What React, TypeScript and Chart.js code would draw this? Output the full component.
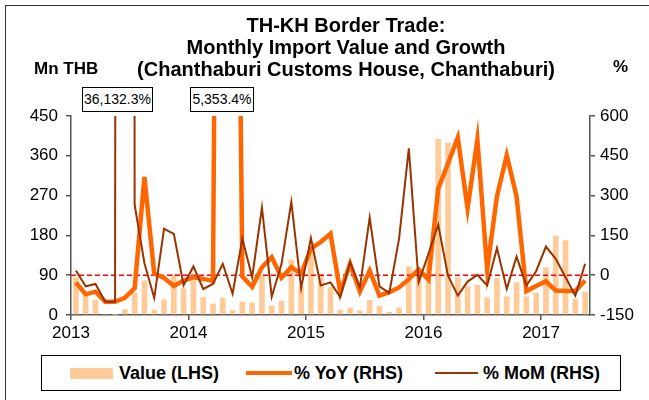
import React, { useEffect, useRef } from "react";
import { Chart, registerables } from "chart.js";

Chart.register(...registerables);

const months: string[] = [
  "2013-01", "2013-02", "2013-03", "2013-04", "2013-05", "2013-06", "2013-07", "2013-08", "2013-09", "2013-10", "2013-11", "2013-12",
  "2014-01", "2014-02", "2014-03", "2014-04", "2014-05", "2014-06", "2014-07", "2014-08", "2014-09", "2014-10", "2014-11", "2014-12",
  "2015-01", "2015-02", "2015-03", "2015-04", "2015-05", "2015-06", "2015-07", "2015-08", "2015-09", "2015-10", "2015-11", "2015-12",
  "2016-01", "2016-02", "2016-03", "2016-04", "2016-05", "2016-06", "2016-07", "2016-08", "2016-09", "2016-10", "2016-11", "2016-12",
  "2017-01", "2017-02", "2017-03", "2017-04", "2017-05",
];

// Import value, Mn THB (LHS)
const valueLHS: number[] = [
  85, 49, 34, 1, 0.3, 13, 51, 78, 12, 35, 93, 60,
  78, 40, 26, 39, 11, 30, 28, 89, 21, 32, 125, 64,
  146, 93, 63, 12, 17, 10, 34, 20, 7, 17, 110, 94,
  134, 398, 389, 85, 65, 68, 40, 84, 42, 74, 42, 51,
  108, 179, 169, 36, 53,
];

// % YoY (RHS)
const yoyRHS: number[] = [
  -27, -72, -62, -100, -100, -85, -49, 370, 6, -10, -41, -20,
  -8, -14, -22, 5353.4, 3500, -5, -44, 30, 68, -10, 30, 5,
  100, 125, 156, -64, 43, -62, 17, -77, -64, -46, -15, 22,
  -16, 326, 421, 519, 251, 512, 22, 298, 452, 297, -60, -41,
  -23, -58, -60, -60, -20,
];

// % MoM (RHS)
const momRHS: number[] = [
  18, -42, -33, -100, -100, 36132.3, 265, 45, -86, 175, 156, -38,
  33, -52, -33, 43, -70, 137, -8, 255, -81, 43, 276, -49,
  140, -39, -27, -83, 49, -46, 217, -42, -67, 137, 478, -27,
  80, 190, -2, -77, -24, 1, -39, 102, -52, 70, -39, 15,
  108, 62, -8, -77, 43,
];

const yearLabels: string[] = ["2013", "2014", "2015", "2016", "2017"];
const calloutLabels: string[] = ["36,132.3%", "5,353.4%"];

const FONT = "'Liberation Sans', Arial, sans-serif";
const AXIS_COLOR = "#555555";

const zeroLinePlugin = {
  id: "zeroLine",
  afterDatasetDraw(chart: any, args: any) {
    if (args.index !== 0) return;
    const ctx = chart.ctx;
    const y = chart.scales.y1.getPixelForValue(0);
    const { left, right } = chart.chartArea;
    ctx.save();
    ctx.strokeStyle = "#FF0000";
    ctx.lineWidth = 1.5;
    ctx.setLineDash([5, 3]);
    ctx.beginPath();
    ctx.moveTo(left, y);
    ctx.lineTo(right, y);
    ctx.stroke();
    ctx.restore();
  },
};

function ChartCanvas() {
  const ref = useRef<HTMLCanvasElement | null>(null);
  useEffect(() => {
    if (!ref.current) return;
    const yearIdx = yearLabels.map((y) => months.indexOf(y + "-01"));
    const chart = new Chart(ref.current, {
      type: "bar",
      data: {
        labels: months,
        datasets: [
          {
            type: "bar",
            label: "Value (LHS)",
            data: valueLHS,
            backgroundColor: "#FFCC99",
            xAxisID: "x",
            yAxisID: "y",
            order: 3,
            categoryPercentage: 1,
            barPercentage: 0.58,
          } as any,
          {
            type: "line",
            label: "% YoY (RHS)",
            data: yoyRHS,
            borderColor: "#FF6600",
            backgroundColor: "#FF6600",
            borderWidth: 4.5,
            pointRadius: 0,
            tension: 0,
            xAxisID: "x",
            yAxisID: "y1",
            order: 2,
          } as any,
          {
            type: "line",
            label: "% MoM (RHS)",
            data: momRHS,
            borderColor: "#993300",
            backgroundColor: "#993300",
            borderWidth: 2,
            pointRadius: 0,
            tension: 0,
            xAxisID: "x",
            yAxisID: "y1",
            order: 1,
          } as any,
        ],
      },
      options: {
        animation: false,
        responsive: false,
        maintainAspectRatio: false,
        layout: { padding: { top: 116, left: 0, right: 0, bottom: 0 } },
        plugins: { legend: { display: false }, tooltip: { enabled: false } },
        scales: {
          x: { type: "category", display: false, offset: true },
          x2: {
            type: "linear",
            position: "bottom",
            offset: false,
            min: 0,
            max: months.length,
            afterBuildTicks: (s: any) => {
              s.ticks = yearIdx.map((v) => ({ value: v }));
            },
            ticks: {
              autoSkip: false,
              maxRotation: 0,
              padding: 3,
              color: "#000",
              font: { family: FONT, size: 17 },
              callback: (v: any) => {
                const k = yearIdx.indexOf(Number(v));
                return k >= 0 ? yearLabels[k] : "";
              },
            },
            grid: { display: true, offset: false, drawOnChartArea: false, drawTicks: true, tickLength: 5, color: AXIS_COLOR, lineWidth: 1.5 },
            border: { display: true, color: AXIS_COLOR, width: 1.5 },
            afterFit: (s: any) => {
              s.height = 85;
            },
          } as any,
          y: {
            position: "left",
            min: 0,
            max: 450,
            ticks: { stepSize: 90, padding: 8, color: "#000", font: { family: FONT, size: 17 } },
            grid: { display: true, drawOnChartArea: false, drawTicks: true, tickLength: 5, color: AXIS_COLOR, lineWidth: 1.5 },
            border: { display: true, color: AXIS_COLOR, width: 1.5 },
            afterFit: (s: any) => {
              s.width = 71;
            },
          } as any,
          y1: {
            position: "right",
            min: -150,
            max: 600,
            ticks: { stepSize: 150, padding: 5, color: "#000", font: { family: FONT, size: 17 } },
            grid: { display: true, drawOnChartArea: false, drawTicks: true, tickLength: 5, color: AXIS_COLOR, lineWidth: 1.5 },
            border: { display: true, color: AXIS_COLOR, width: 1.5 },
            afterFit: (s: any) => {
              s.width = 59;
            },
          } as any,
        },
      },
      plugins: [zeroLinePlugin],
    });
    return () => chart.destroy();
  }, []);
  return <canvas ref={ref} width={649} height={400} style={{ position: "absolute", left: 0, top: 0, width: 649, height: 400 }} />;
}

export default function App() {
  const bold = { fontFamily: FONT, fontWeight: 700 as const, color: "#000" };
  const legendText = { ...bold, fontSize: 18, position: "absolute" as const, top: 362, lineHeight: "22px", whiteSpace: "nowrap" as const };
  return (
    <div style={{ position: "absolute", left: 0, top: 0, width: 649, height: 400, overflow: "hidden", background: "#fff" }}>
      <div style={{ position: "absolute", left: 5, top: 5, width: 700, height: 500, borderLeft: "1px solid #333", borderTop: "1px solid #333" }} />
      <ChartCanvas />
      <div style={{ ...bold, position: "absolute", left: 46, top: 14, width: 600, textAlign: "center", fontSize: 20, lineHeight: "22px" }}>
        <div>TH-KH Border Trade:</div>
        <div>Monthly Import Value and Growth</div>
        <div>(Chanthaburi Customs House, Chanthaburi)</div>
      </div>
      <div style={{ ...bold, position: "absolute", left: 34, top: 58, fontSize: 17, lineHeight: "22px" }}>Mn THB</div>
      <div style={{ ...bold, position: "absolute", left: 613, top: 56, fontSize: 17, lineHeight: "22px" }}>%</div>
      <div style={{ position: "absolute", left: 82, top: 87, width: 69, height: 23, border: "1px solid #000", background: "#fff", fontFamily: FONT, fontSize: 14, lineHeight: "23px", textAlign: "center", color: "#000" }}>{calloutLabels[0]}</div>
      <div style={{ position: "absolute", left: 190, top: 87, width: 62, height: 23, border: "1px solid #000", background: "#fff", fontFamily: FONT, fontSize: 14, lineHeight: "23px", textAlign: "center", color: "#000" }}>{calloutLabels[1]}</div>
      <div style={{ position: "absolute", left: 41, top: 355, width: 578, height: 34, border: "1px solid #000", background: "#fff" }} />
      <div style={{ position: "absolute", left: 70, top: 368, width: 43, height: 11, background: "#FFCC99" }} />
      <div style={{ ...legendText, left: 119 }}>Value (LHS)</div>
      <div style={{ position: "absolute", left: 246, top: 371, width: 46, height: 4, background: "#FF6600" }} />
      <div style={{ ...legendText, left: 294 }}>% YoY (RHS)</div>
      <div style={{ position: "absolute", left: 435, top: 372, width: 43, height: 2, background: "#993300" }} />
      <div style={{ ...legendText, left: 483 }}>% MoM (RHS)</div>
    </div>
  );
}
